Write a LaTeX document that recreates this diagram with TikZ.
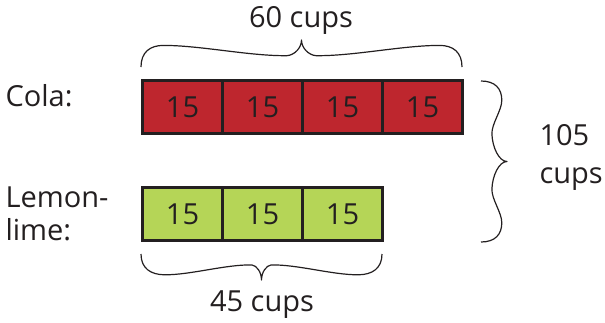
\documentclass[tikz,border=0pt]{standalone}
\usepackage{fontspec}
\setmainfont{Open Sans}
\definecolor{colared}{RGB}{190,38,46}
\definecolor{limegreen}{RGB}{181,213,87}
\definecolor{ink}{RGB}{35,31,32}
% curly brace in a unit frame: runs from (0,0) to (1,0), tip at (0.5,1);
% #1 = position of the outer bulge, #2 = position of the inner dip
\newcommand\curlybrace[2]{%
  (0,0) .. controls (0,0.55) and ({#1*0.4},0.8) .. (#1,0.8)
  .. controls ({#1+0.3*(#2-#1)},0.8) and ({#2-0.3*(#2-#1)},0.4) .. (#2,0.42)
  .. controls ({#2+0.5*(0.5-#2)},0.44) and (0.5,0.7) .. (0.5,1)
  .. controls (0.5,0.7) and ({1-#2-0.5*(0.5-#2)},0.44) .. ({1-#2},0.42)
  .. controls ({1-#2+0.3*(#2-#1)},0.4) and ({1-#1-0.3*(#2-#1)},0.8) .. ({1-#1},0.8)
  .. controls ({1-#1*0.4},0.8) and (1,0.55) .. (1,0)}
\begin{document}
\begin{tikzpicture}[x=1pt,y=-1pt,
  every node/.style={text=ink,font=\fontsize{29}{33}\selectfont},
  cell/.style={draw=ink,line width=3pt,minimum width=80pt,minimum height=53pt,
    inner sep=0pt,anchor=north west},
  colacell/.style={cell,fill=colared},
  limecell/.style={cell,fill=limegreen},
  bracestroke/.style={draw=ink,line width=1.2pt,line join=round}]
\useasboundingbox (0,0) rectangle (605,322);

% cola bar: four cells of 15
\node[colacell] (c1) at (141,79) {15};
\node[colacell] (c2) at (221,79) {15};
\node[colacell] (c3) at (301,79) {15};
\node[colacell] (c4) at (381,79) {15};

% lemon-lime bar: three cells of 15
\node[limecell] (l1) at (141,186) {15};
\node[limecell] (l2) at (221,186) {15};
\node[limecell] (l3) at (301,186) {15};

% row labels
\node[anchor=west] (colalabel) at (2,96) {Cola:};
\node[anchor=west,align=left] (lemonlabel) at (2,214) {Lemon-\\lime:};

% brace above the cola bar
\begin{scope}[shift={(141,67)},x={(321pt,0pt)},y={(0pt,27pt)}]
  \draw[bracestroke] \curlybrace{0.07}{0.455};
\end{scope}
\node (sixty) at (301,20) {60 cups};

% brace below the lemon-lime bar
\begin{scope}[shift={(141,254)},x={(241pt,0pt)},y={(0pt,-26pt)}]
  \draw[bracestroke] \curlybrace{0.1}{0.46};
\end{scope}
\node (fortyfive) at (262,305) {45 cups};

% brace spanning both bars on the right
\begin{scope}[shift={(481,81)},x={(0pt,-161pt)},y={(26pt,0pt)}]
  \draw[bracestroke] \curlybrace{0.12}{0.33};
\end{scope}
\node[anchor=west,align=left,font=\fontsize{29}{38}\selectfont] (total) at (536,157) {105\\cups};
\end{tikzpicture}
\end{document}
